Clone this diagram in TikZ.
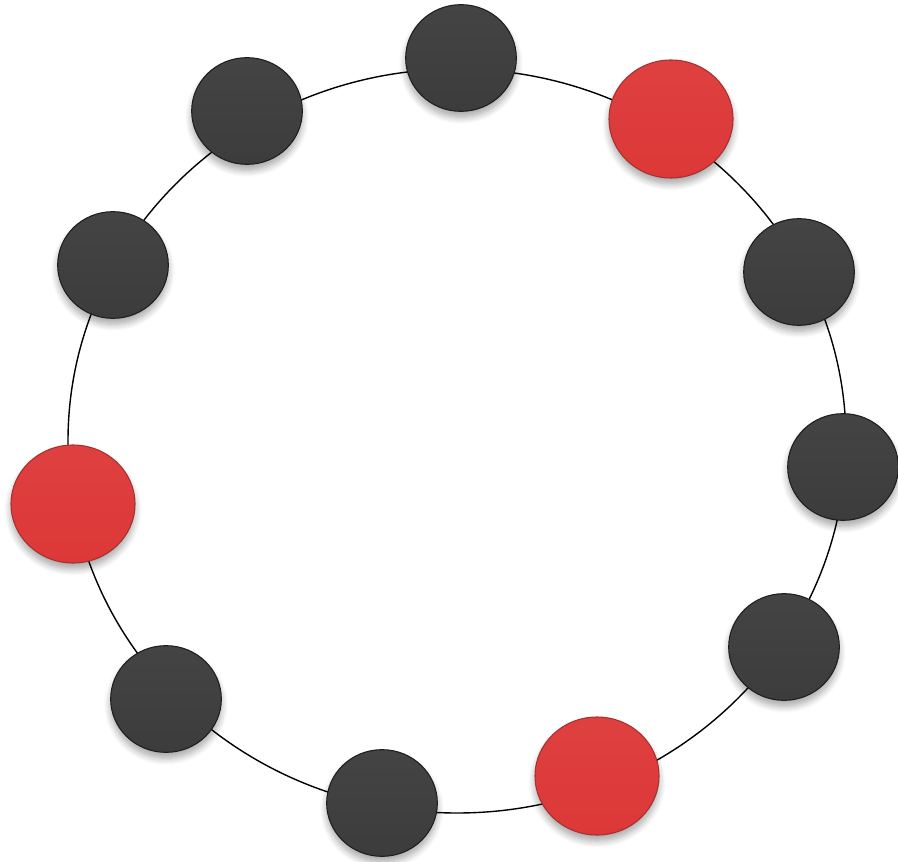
\documentclass[tikz,border=0pt]{standalone}
\usetikzlibrary{shapes.geometric,shadows.blur}
\definecolor{darkfillA}{HTML}{444444}
\definecolor{darkfillB}{HTML}{363636}
\definecolor{darkfillC}{HTML}{3C3C3C}
\definecolor{darkrim}{HTML}{1E1E1E}
\definecolor{redfillA}{HTML}{DE4040}
\definecolor{redfillB}{HTML}{D22F2F}
\definecolor{redfillC}{HTML}{DD3838}
\definecolor{redrim}{HTML}{A63030}
\tikzset{
  ball/.style={ellipse, inner sep=0pt, line width=0.8pt,
    blur shadow={shadow xshift=0pt, shadow yshift=-4.5pt, shadow blur steps=8, shadow blur radius=5pt, shadow opacity=35}},
  darkball/.style={ball, minimum width=83pt, minimum height=80pt, draw=darkrim,
    top color=darkfillA, middle color=darkfillB, bottom color=darkfillC},
  redball/.style={ball, minimum width=93pt, minimum height=88.5pt, draw=redrim,
    top color=redfillA, middle color=redfillB, bottom color=redfillC},
  ring/.style={draw=black, line width=1.05pt}
}
\begin{document}
\begin{tikzpicture}[x=0.75pt,y=-0.75pt]
\useasboundingbox (0,0) rectangle (898,862);
\draw[ring] (457,441) ellipse [x radius=291.75pt, y radius=279pt];
\node[darkball] (n1) at (461,58) {};
\node[redball] (n2) at (671,119) {};
\node[darkball] (n3) at (799,272) {};
\node[darkball] (n4) at (843,467) {};
\node[darkball] (n5) at (784,647) {};
\node[redball] (n6) at (597,776) {};
\node[darkball] (n7) at (382,803) {};
\node[darkball] (n8) at (166,699) {};
\node[redball] (n9) at (73,504) {};
\node[darkball] (n10) at (113,265) {};
\node[darkball] (n11) at (247,111) {};
\end{tikzpicture}
\end{document}
